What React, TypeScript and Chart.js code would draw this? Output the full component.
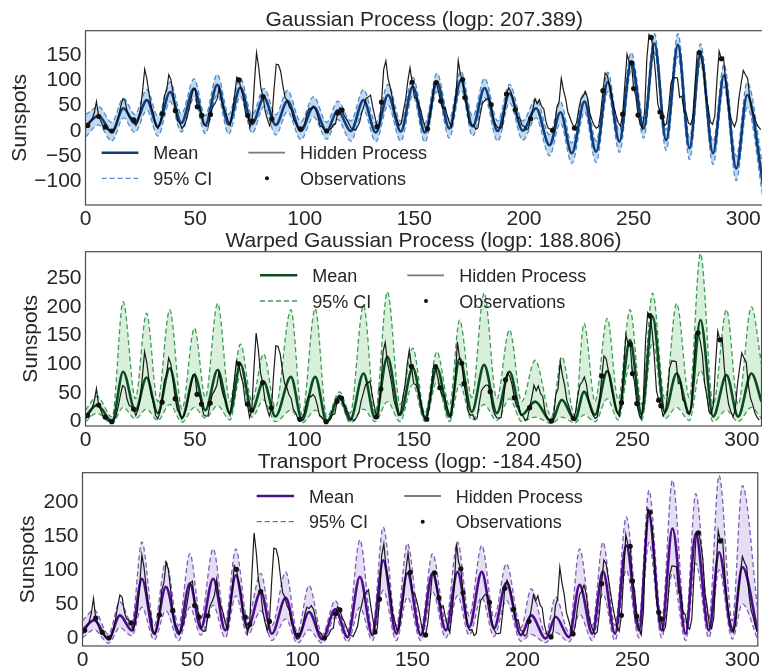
import { useEffect, useRef } from "react";
import { Chart, registerables } from "chart.js";
Chart.register(...registerables);

const FONT = '"Liberation Sans", Arial, sans-serif';

// Yearly sunspot numbers, index 0 = 1700
const sunspots = [
  5, 11, 16, 23, 36, 58, 29, 20, 10, 8, 3, 0, 0, 2, 11, 27, 47, 63, 60, 39,
  28, 26, 22, 11, 21, 40, 78, 122, 103, 73, 47, 35, 11, 5, 16, 34, 70, 81, 111, 101,
  73, 40, 20, 16, 5, 11, 22, 40, 60, 80.9, 83.4, 47.7, 47.8, 30.7, 12.2, 9.6, 10.2, 32.4, 47.6, 54.0,
  62.9, 85.9, 61.2, 45.1, 36.4, 20.9, 11.4, 37.8, 69.8, 106.1, 100.8, 81.6, 66.5, 34.8, 30.6, 7.0, 19.8, 92.5, 154.4, 125.9,
  84.8, 68.1, 38.5, 22.8, 10.2, 24.1, 82.9, 132.0, 130.9, 118.1, 89.9, 66.6, 60.0, 46.9, 41.0, 21.3, 16.0, 6.4, 4.1, 6.8,
  14.5, 34.0, 45.0, 43.1, 47.5, 42.2, 28.1, 10.1, 8.1, 2.5, 0.0, 1.4, 5.0, 12.2, 13.9, 35.4, 45.8, 41.1, 30.1, 23.9,
  15.6, 6.6, 4.0, 1.8, 8.5, 16.6, 36.3, 49.6, 64.2, 67.0, 70.9, 47.8, 27.5, 8.5, 13.2, 56.9, 121.5, 138.3, 103.2, 85.7,
  64.6, 36.7, 24.2, 10.7, 15.0, 40.1, 61.5, 98.5, 124.7, 96.3, 66.6, 64.5, 54.1, 39.0, 20.6, 6.7, 4.3, 22.7, 54.8, 93.8,
  95.8, 77.2, 59.1, 44.0, 47.0, 30.5, 16.3, 7.3, 37.6, 74.0, 139.0, 111.2, 101.6, 66.2, 44.7, 17.0, 11.3, 12.4, 3.4, 6.0,
  32.3, 54.3, 59.7, 63.7, 63.5, 52.2, 25.4, 13.1, 6.8, 6.3, 7.1, 35.6, 73.0, 85.1, 78.0, 64.0, 41.8, 26.2, 26.7, 12.1,
  9.5, 2.7, 5.0, 24.4, 42.0, 63.5, 53.8, 62.0, 48.5, 43.9, 18.6, 5.7, 3.6, 1.4, 9.6, 47.4, 57.1, 103.9, 80.6, 63.6,
  37.6, 26.1, 14.2, 5.8, 16.7, 44.3, 63.9, 69.0, 77.8, 64.9, 35.7, 21.2, 11.1, 5.7, 8.7, 36.1, 79.7, 114.4, 109.6, 88.8,
  67.8, 47.5, 30.6, 16.3, 9.6, 33.2, 92.6, 151.6, 136.3, 134.7, 83.9, 69.4, 31.5, 13.9, 4.4, 38.0, 141.7, 190.2, 184.8, 159.0,
  112.3, 53.9, 37.5, 27.9, 10.2, 15.1, 47.0, 93.8, 105.9, 105.5, 104.5, 66.6, 68.9, 38.0, 34.5, 15.5, 12.6, 27.5, 92.5, 155.4,
  154.6, 140.4, 115.9, 66.6, 45.9, 17.9, 13.4, 29.4, 100.2, 157.6, 142.6, 145.7, 94.3, 54.6, 29.9, 17.5, 8.6, 21.5, 64.3, 93.3,
  119.6, 111.0, 104.0, 63.7, 40.4, 29.8, 15.2, 7.5, 2.9,
];

// indices of observed years
const obsIdx = [1, 6, 9, 12, 22, 35, 41, 51, 53, 57, 70, 74, 76, 81, 85, 98, 110, 115, 117, 133, 135, 149, 156, 160, 162, 172, 173, 185, 192, 196, 203, 213, 223, 236, 245, 249, 250, 252, 258, 262, 263, 280, 290];

const xTicks = [0, 50, 100, 150, 200, 250, 300];
const gpYTicks = [-100, -50, 0, 50, 100, 150];
const wgpYTicks = [0, 50, 100, 150, 200, 250];
const tpYTicks = [0, 50, 100, 150, 200];

// Gaussian process (extrema of the posterior curves)
const gpX = [0, 6, 12, 17.3, 22.5, 28, 33, 38.6, 43.7, 49.5, 54.6, 60.1, 65.3, 70.6, 76, 81.4, 86.8, 92.1, 98.2, 104, 110, 115, 121, 126.8, 132.4, 138, 143.8, 149.3, 154.8, 160.3, 165.9, 171.2, 176.6, 182, 188, 193.4, 199.4, 205.5, 211.6, 216.6, 221.8, 227.6, 232.9, 238.2, 243.5, 248.9, 254.6, 259.5, 264.8, 270.2, 275.5, 280.5, 286.2, 291.2, 296.8, 301.8, 309];
const gpMean = [10, 30, -2, 45, 15, 61, 9, 77, 16, 84, 12, 91, 13, 86, 14, 66, 12, 59, 0, 48, 0, 41, 0, 61, -3, 71, -1, 88, -3, 96, 5, 100, 9, 85, 0, 74, 1, 45, -28, 37, -44, 58, -41, 97, -21, 137, 5, 173, -18, 170, -34, 153, -44, 110, -74, 71, -104];
const gpUpper = [32, 48, 17, 65, 33, 82, 29, 97, 34, 103, 30, 112, 33, 104, 32, 84, 32, 80, 18, 68, 17, 59, 20, 82, 16, 92, 19, 106, 15, 114, 24, 118, 29, 104, 20, 92, 20, 64, -7, 58, -24, 78, -20, 116, 0, 155, 24, 192, 2, 192, -13, 172, -22, 132, -50, 96, -74];
const gpLower = [-12, 12, -20, 26, -3, 41, -10, 58, -2, 65, -5, 72, -6, 68, -4, 48, -8, 38, -17, 28, -16, 23, -20, 41, -21, 51, -20, 70, -22, 78, -14, 82, -10, 66, -20, 56, -18, 26, -49, 16, -64, 38, -62, 78, -42, 119, -14, 155, -38, 148, -56, 134, -66, 88, -98, 46, -132];

// Warped Gaussian process
const wgpX = [0, 5.3, 12.2, 17.2, 22.8, 27.9, 33, 38.5, 44.1, 49.8, 54.8, 60.4, 66, 70.8, 76.1, 81.4, 86.8, 93.9, 99, 105, 110.3, 116.1, 121, 127.1, 132.4, 138, 143.8, 149.6, 155.2, 160.6, 166.4, 171, 176.6, 182.2, 188, 193.8, 199.4, 205.5, 213, 217.7, 223.7, 227.9, 232.9, 238.5, 243.5, 248.9, 254.2, 259.2, 264.8, 270.2, 276, 281.1, 286.9, 293, 298.3, 304.4, 309];
const wgpMean = [9, 29, 1, 87, 19, 77, 15, 93, 7, 81, 20, 90, 15, 100, 20, 70, 9, 78, 3, 78, 0, 44, 3, 84, 6, 113, 12, 94, 6, 94, 9, 110, 17, 99, 15, 87, 12, 35, 0, 38, 3, 52, 12, 88, 15, 142, 12, 183, 17, 84, 15, 177, 9, 81, 9, 84, 35];
const wgpUpper = [20, 44, 8, 209, 40, 189, 35, 195, 22, 163, 42, 206, 35, 135, 36, 118, 25, 195, 12, 197, 8, 52, 15, 203, 14, 226, 30, 128, 14, 122, 28, 177, 42, 224, 40, 160, 35, 107, 8, 113, 10, 171, 35, 180, 38, 195, 30, 224, 40, 206, 42, 293, 30, 195, 30, 200, 100];
const wgpLower = [0, 15, -3, 25, 5, 22, 2, 30, -1, 25, 6, 28, 3, 80, 8, 38, 0, 20, -2, 20, -3, 35, -2, 22, 0, 35, 0, 65, 0, 70, 0, 65, 3, 30, 2, 40, 0, 8, -3, 8, -2, 12, 0, 40, 3, 100, 2, 140, 5, 25, 2, 90, 0, 20, 0, 25, 5];

// Transport process
const tpX = [0, 5.3, 11.8, 17, 22.4, 27, 32.6, 37.9, 43.7, 48.8, 53.8, 59.4, 64.9, 69.7, 75, 81.1, 86.1, 92.4, 97.7, 103, 109, 114.9, 120.5, 126.1, 131.8, 136.7, 142.7, 147.7, 153.8, 159.1, 165.2, 170.5, 175.8, 181.5, 187.1, 192.7, 199.3, 204, 210.6, 215.1, 221.2, 226, 231.8, 236.6, 242.1, 247.2, 253, 257.5, 263.3, 268.2, 274.2, 278.8, 284.8, 289.4, 295.4, 300, 307];
const tpMean = [11, 26, -2, 33, 11, 87, 6, 75, 6, 80, 14, 87, 11, 92, 14, 68, 6, 59, -1, 38, -2, 42, 1, 90, 4, 114, 6, 95, 4, 95, 11, 97, 16, 97, 14, 81, 4, 33, -1, 31, 1, 78, 6, 98, 6, 136, 11, 180, 11, 161, 6, 153, 11, 126, 9, 104, 9];
const tpUpper = [25, 41, 5, 53, 22, 141, 18, 112, 18, 124, 28, 131, 24, 131, 28, 95, 18, 97, 8, 77, 5, 55, 10, 144, 12, 163, 18, 139, 12, 124, 25, 141, 32, 136, 30, 109, 15, 72, 6, 60, 8, 131, 18, 141, 18, 178, 25, 217, 25, 232, 20, 212, 28, 239, 25, 224, 40];
const tpLower = [0, 12, -8, 15, 3, 45, -3, 40, -4, 45, 4, 48, 0, 62, 4, 40, -4, 28, -8, 12, -8, 30, -6, 45, -4, 70, -4, 60, -4, 68, 0, 62, 4, 60, 2, 55, -5, 5, -7, 8, -6, 35, -4, 65, -4, 100, 0, 140, 0, 95, -4, 110, 0, 100, -2, 50, -3];

type Panel = {
  title: string;
  xs: number[]; mean: number[]; upper: number[]; lower: number[];
  yTicks: number[];
  top: number; height: number; width: number;
  left: number; right: number; areaTop: number; areaBottom: number;
  xMax: number; yMin: number; yMax: number;
  titleY: number; ylabelX: number;
  meanColor: string; ciColor: string; fillColor: string;
  lg: { r1: number; r2: number; c1: [number, number]; t1: number; c2: [number, number]; t2: number; dot: number };
};

const panels: Panel[] = [
  {
    title: "Gaussian Process (logp: 207.389)",
    xs: gpX, mean: gpMean, upper: gpUpper, lower: gpLower, yTicks: gpYTicks,
    top: 0, height: 230, width: 770, left: 85.5, right: 763, areaTop: 30.7, areaBottom: 205,
    xMax: 309, yMin: -146, yMax: 198, titleY: 26, ylabelX: 26,
    meanColor: "#0f3c7c", ciColor: "#4a8bc9", fillColor: "rgba(100,158,212,0.4)",
    lg: { r1: 152.7, r2: 178.3, c1: [101.7, 138.3], t1: 153.3, c2: [248.3, 285], t2: 300, dot: 267 },
  },
  {
    title: "Warped Gaussian Process (logp: 188.806)",
    xs: wgpX, mean: wgpMean, upper: wgpUpper, lower: wgpLower, yTicks: wgpYTicks,
    top: 230, height: 222, width: 770, left: 85.5, right: 761.5, areaTop: 251.7, areaBottom: 426,
    xMax: 309, yMin: -7.5, yMax: 296, titleY: 247, ylabelX: 37,
    meanColor: "#0b4a22", ciColor: "#3d9b5c", fillColor: "rgba(116,196,118,0.28)",
    lg: { r1: 275.3, r2: 301, c1: [260, 297.3], t1: 312.3, c2: [407.3, 444], t2: 459.3, dot: 426 },
  },
  {
    title: "Transport Process (logp: -184.450)",
    xs: tpX, mean: tpMean, upper: tpUpper, lower: tpLower, yTicks: tpYTicks,
    top: 452, height: 214, width: 762, left: 82.5, right: 758.7, areaTop: 472.7, areaBottom: 646,
    xMax: 307, yMin: -12, yMax: 243, titleY: 468, ylabelX: 34,
    meanColor: "#4b0c8c", ciColor: "#7d5db8", fillColor: "rgba(160,130,205,0.27)",
    lg: { r1: 496, r2: 521.7, c1: [256.7, 294], t1: 309, c2: [404.3, 441], t2: 455.7, dot: 422.7 },
  },
];

const pts = (xs: number[], ys: number[]) => xs.map((x, i) => ({ x, y: ys[i] }));
const fmt = (v: number) => (v < 0 ? "\u2212" + Math.abs(v) : String(v));

function decoPlugin(p: Panel) {
  return {
    id: "deco",
    afterDraw(chart: any) {
      const { ctx, chartArea: a } = chart;
      const off = p.top;
      ctx.save();
      ctx.strokeStyle = "#4a4a4a";
      ctx.lineWidth = 1.2;
      ctx.strokeRect(a.left, a.top, a.right - a.left, a.bottom - a.top);
      ctx.fillStyle = "#262626";
      ctx.font = `21px ${FONT}`;
      ctx.textAlign = "center";
      ctx.textBaseline = "alphabetic";
      ctx.fillText(p.title, (a.left + a.right) / 2, p.titleY - off);
      ctx.save();
      ctx.translate(p.ylabelX, (a.top + a.bottom) / 2);
      ctx.rotate(-Math.PI / 2);
      ctx.fillText("Sunspots", 0, 0);
      ctx.restore();
      // legend
      const L = p.lg;
      const r1 = L.r1 - off, r2 = L.r2 - off;
      ctx.lineCap = "butt";
      ctx.strokeStyle = p.meanColor; ctx.lineWidth = 2.6; ctx.setLineDash([]);
      ctx.beginPath(); ctx.moveTo(L.c1[0], r1); ctx.lineTo(L.c1[1], r1); ctx.stroke();
      ctx.strokeStyle = p.ciColor; ctx.lineWidth = 1.3; ctx.setLineDash([5, 3]);
      ctx.beginPath(); ctx.moveTo(L.c1[0], r2); ctx.lineTo(L.c1[1], r2); ctx.stroke();
      ctx.setLineDash([]);
      ctx.strokeStyle = "#7a7a7a"; ctx.lineWidth = 1.8;
      ctx.beginPath(); ctx.moveTo(L.c2[0], r1); ctx.lineTo(L.c2[1], r1); ctx.stroke();
      ctx.fillStyle = "#111";
      ctx.beginPath(); ctx.arc(L.dot, r2, 2, 0, Math.PI * 2); ctx.fill();
      ctx.fillStyle = "#262626";
      ctx.font = `18px ${FONT}`;
      ctx.textAlign = "left";
      ctx.fillText("Mean", L.t1, r1 + 6.5);
      ctx.fillText("95% CI", L.t1, r2 + 6.5);
      ctx.fillText("Hidden Process", L.t2, r1 + 6.5);
      ctx.fillText("Observations", L.t2, r2 + 6.5);
      ctx.restore();
    },
  };
}

function makeChart(canvas: HTMLCanvasElement, p: Panel) {
  const tickFont = { family: FONT, size: 21 };
  return new Chart(canvas, {
    type: "line",
    data: {
      datasets: [
        {
          label: "Observations",
          data: obsIdx.map((i) => ({ x: i, y: sunspots[i] })),
          showLine: false,
          pointRadius: 2.6,
          pointBackgroundColor: "#111",
          pointBorderWidth: 0,
          borderColor: "#111",
        },
        {
          label: "Hidden Process",
          data: sunspots.map((y, i) => ({ x: i, y })),
          borderColor: "rgba(8,8,8,0.92)",
          borderWidth: 1.2,
          pointRadius: 0,
          tension: 0,
        },
        {
          label: "Mean",
          data: pts(p.xs, p.mean),
          borderColor: p.meanColor,
          borderWidth: 2.6,
          pointRadius: 0,
          cubicInterpolationMode: "monotone",
        },
        {
          label: "95% CI upper",
          data: pts(p.xs, p.upper),
          borderColor: p.ciColor,
          borderWidth: 1.3,
          borderDash: [5, 3],
          pointRadius: 0,
          cubicInterpolationMode: "monotone",
          fill: "+1",
          backgroundColor: p.fillColor,
        },
        {
          label: "95% CI lower",
          data: pts(p.xs, p.lower),
          borderColor: p.ciColor,
          borderWidth: 1.3,
          borderDash: [5, 3],
          pointRadius: 0,
          cubicInterpolationMode: "monotone",
          fill: false,
        },
      ],
    },
    options: {
      animation: false,
      responsive: false,
      devicePixelRatio: 1,
      events: [],
      layout: { padding: { top: p.areaTop - p.top, right: p.width - p.right, left: 0, bottom: 0 } },
      plugins: { legend: { display: false }, title: { display: false }, tooltip: { enabled: false } },
      scales: {
        x: {
          type: "linear",
          min: 0,
          max: p.xMax,
          grid: { display: false, drawTicks: false },
          border: { display: false },
          ticks: { font: tickFont, color: "#262626", padding: 2, maxRotation: 0, autoSkip: false, callback: (v: any) => fmt(Number(v)) },
          afterBuildTicks: (s: any) => { s.ticks = xTicks.map((v) => ({ value: v })); },
          afterFit: (s: any) => { s.height = p.top + p.height - p.areaBottom; },
        },
        y: {
          type: "linear",
          min: p.yMin,
          max: p.yMax,
          grid: { display: false, drawTicks: false },
          border: { display: false },
          ticks: { font: tickFont, color: "#262626", padding: 4, autoSkip: false, callback: (v: any) => fmt(Number(v)) },
          afterBuildTicks: (s: any) => { s.ticks = p.yTicks.map((v) => ({ value: v })); },
          afterFit: (s: any) => { s.width = p.left; },
        },
      },
    },
    plugins: [decoPlugin(p)],
  } as any);
}

function PanelChart({ p }: { p: Panel }) {
  const ref = useRef<HTMLCanvasElement>(null);
  useEffect(() => {
    if (!ref.current) return;
    const c = makeChart(ref.current, p);
    return () => c.destroy();
  }, [p]);
  return (
    <canvas
      ref={ref}
      width={p.width}
      height={p.height}
      style={{ position: "absolute", left: 0, top: p.top, width: p.width, height: p.height }}
    />
  );
}

export default function App() {
  return (
    <div style={{ position: "absolute", left: 0, top: 0, width: 762, height: 666, overflow: "hidden", background: "#fff" }}>
      {panels.map((p, i) => (
        <PanelChart key={i} p={p} />
      ))}
    </div>
  );
}
